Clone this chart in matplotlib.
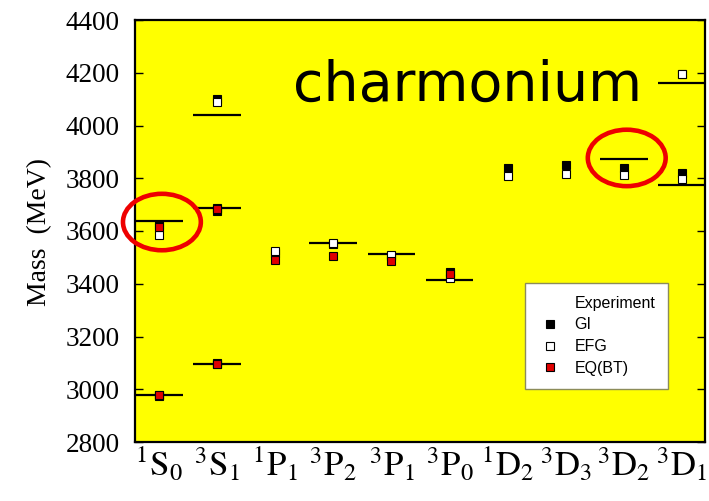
import matplotlib
matplotlib.use("Agg")
import matplotlib.pyplot as plt
from matplotlib.lines import Line2D
from matplotlib.patches import Ellipse

plt.rcParams["mathtext.fontset"] = "stix"
plt.rcParams["font.family"] = ["Liberation Serif", "DejaVu Serif"]

# Spectroscopic states along the x axis
state_labels = [r"$^{1}\mathrm{S}_{0}$", r"$^{3}\mathrm{S}_{1}$", r"$^{1}\mathrm{P}_{1}$",
                r"$^{3}\mathrm{P}_{2}$", r"$^{3}\mathrm{P}_{1}$", r"$^{3}\mathrm{P}_{0}$",
                r"$^{1}\mathrm{D}_{2}$", r"$^{3}\mathrm{D}_{3}$", r"$^{3}\mathrm{D}_{2}$",
                r"$^{3}\mathrm{D}_{1}$"]

# Experimental masses (MeV): state index and mass
exp_state = [0, 0, 1, 1, 1, 3, 4, 5, 8, 9, 9]
exp_mass = [2980, 3637, 3097, 3686, 4040, 3556, 3511, 3415, 3872, 3773, 4160]

# GI model predictions
gi_state = [0, 0, 1, 1, 1, 2, 3, 4, 5, 6, 7, 8, 9, 9]
gi_mass = [2975, 3623, 3098, 3676, 4100, 3516, 3550, 3505, 3445, 3838, 3849, 3838, 3819, 4194]

# EFG model predictions
efg_state = [0, 0, 1, 1, 1, 2, 3, 4, 5, 6, 7, 8, 9, 9]
efg_mass = [2979, 3585, 3096, 3686, 4088, 3526, 3556, 3510, 3420, 3810, 3817, 3813, 3798, 4195]

# EQ(BT) predictions
eq_state = [0, 0, 1, 1, 2, 3, 4, 5]
eq_mass = [2978, 3614, 3097, 3684, 3490, 3506, 3486, 3438]

# Highlighted states (x index, mass)
highlight_state = [0, 8]
highlight_mass = [3634, 3877]

W, H = 709, 501
fig = plt.figure(figsize=(W / 100, H / 100), dpi=100)
ax = fig.add_axes([135 / W, 1 - 442 / H, 570 / W, 422 / H])
ax.set_facecolor("#FFFF00")

half = 0.41
for s, m in zip(exp_state, exp_mass):
    ax.plot([s - half, s + half], [m, m], color="black", lw=1.6, solid_capstyle="butt", zorder=2)

ms = 6.3
ax.plot(gi_state, gi_mass, ls="none", marker="s", ms=ms, mfc="black", mec="black", mew=0.8, zorder=3)
ax.plot(efg_state, efg_mass, ls="none", marker="s", ms=ms, mfc="white", mec="black", mew=0.8, zorder=4)
ax.plot(eq_state, eq_mass, ls="none", marker="s", ms=ms, mfc="#E00000", mec="black", mew=0.8, zorder=5)

for s, m in zip(highlight_state, highlight_mass):
    ax.add_patch(Ellipse((s + 0.05, m), 1.34, 214, fill=False, ec="#EE0000", lw=3.3,
                         clip_on=False, zorder=6))

ax.set_xlim(-0.413, 9.397)
ax.set_ylim(2800, 4400)
ax.set_yticks(range(2800, 4401, 200))
ax.set_xticks(range(len(state_labels)))
ax.set_xticklabels(state_labels, fontsize=25)
ax.tick_params(axis="x", length=0, pad=3)
ax.tick_params(axis="y", direction="in", length=6, width=1, right=True, pad=11, labelsize=19.5)
for sp in ax.spines.values():
    sp.set_linewidth(1.6)

fig.text(40 / W, 1 - 232 / H, "Mass  (MeV)", rotation=90, ha="center", va="center",
         fontsize=20)

fig.text(293 / W, 1 - 101 / H, "charmonium", ha="left", va="baseline",
         family="DejaVu Sans", fontsize=40)

handles = [Line2D([], [], ls="none", color="none"),
           Line2D([], [], ls="none", marker="s", ms=5.5, mfc="black", mec="black", mew=0.8),
           Line2D([], [], ls="none", marker="s", ms=5.5, mfc="white", mec="black", mew=0.8),
           Line2D([], [], ls="none", marker="s", ms=5.5, mfc="#E00000", mec="black", mew=0.8)]
labels = ["Experiment", "GI", "EFG", "EQ(BT)"]
leg = ax.legend(handles, labels, loc="upper left", bbox_to_anchor=(525 / W, 1 - 283 / H),
                bbox_transform=fig.transFigure, frameon=True, fancybox=False,
                prop={"family": "Liberation Sans", "size": 11.5}, handlelength=1.5,
                handletextpad=0.8, labelspacing=0.42, borderpad=0.8, borderaxespad=0,
                edgecolor="#8c8c5a", framealpha=1)
leg.get_frame().set_linewidth(1.0)
leg.set_zorder(7)

fig.savefig("out.png", dpi=100)
